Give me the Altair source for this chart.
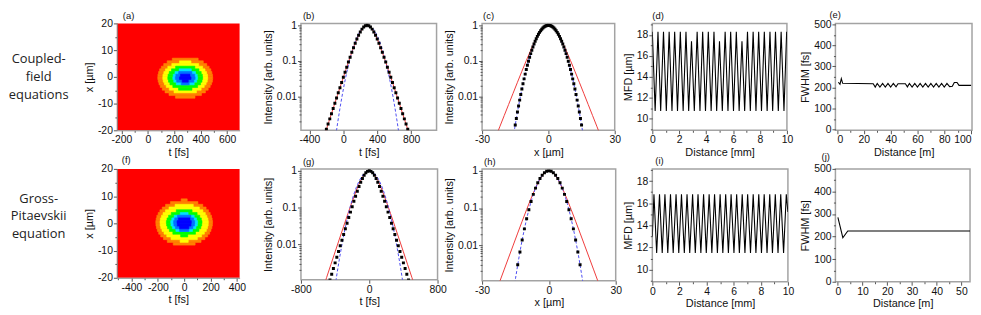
import altair as alt
import pandas as pd

# ---------------- (a) coupled-field map: contour levels, rows (x_lo [um], t_lo [fs], t_hi [fs])
a_lvl1 = [(6, 185, 381), (5, 146, 420), (4, 120, 446), (3, 102, 464), (2, 89, 477), (1, 81, 485),
          (0, 76, 490), (-1, 75, 491), (-2, 78, 489), (-3, 84, 482), (-4, 94, 472), (-5, 109, 457),
          (-6, 130, 436), (-7, 160, 406), (-8, 209, 357)]
a_lvl2 = [(5, 239, 327), (4, 181, 385), (3, 151, 415), (2, 133, 433), (1, 121, 445), (0, 114, 452),
          (-1, 113, 453), (-2, 116, 450), (-3, 125, 441), (-4, 139, 427), (-5, 162, 404), (-6, 198, 368)]
a_lvl3 = [(3, 210, 356), (2, 179, 387), (1, 162, 404), (0, 153, 413), (-1, 151, 415), (-2, 156, 410),
          (-3, 167, 399), (-4, 189, 377), (-5, 232, 334)]
a_lvl4 = [(2, 237, 329), (1, 205, 361), (0, 192, 374), (-1, 189, 377), (-2, 196, 370), (-3, 215, 351)]
a_lvl5 = [(1, 233, 333), (0, 212, 354), (-1, 208, 358), (-2, 218, 348), (-3, 253, 313)]
a_lvl6 = [(0, 247, 319), (-1, 239, 327), (-2, 260, 306)]

# ---------------- (f) Gross-Pitaevskii map: rows (x_lo [um], half width [fs]) centred on t = 0
f_lvl1 = [(8, 23), (7, 104), (6, 141), (5, 166), (4, 184), (3, 197), (2, 207), (1, 212), (0, 215),
          (-1, 214), (-2, 210), (-3, 203), (-4, 193), (-5, 178), (-6, 157), (-7, 128), (-8, 83)]
f_lvl2 = [(6, 69), (5, 115), (4, 142), (3, 160), (2, 172), (1, 180), (0, 183), (-1, 182), (-2, 177),
          (-3, 168), (-4, 153), (-5, 132), (-6, 100), (-7, 31)]
f_lvl3 = [(4, 60), (3, 98), (2, 118), (1, 130), (0, 135), (-1, 133), (-2, 126), (-3, 112), (-4, 86), (-5, 27)]
f_lvl4 = [(3, 30), (2, 76), (1, 94), (0, 102), (-1, 100), (-2, 89), (-3, 63)]
f_lvl5 = [(2, 51), (1, 72), (0, 80), (-1, 78), (-2, 66), (-3, 35)]
f_lvl6 = [(1, 44), (0, 54), (-1, 52), (-2, 35)]

LEVEL_COLORS = ["#ff8000", "#ffff00", "#00ff00", "#00e0ff", "#0070ff", "#0000ff"]

# ---------------- (b) temporal profile
b_red_t = [-220, -170, -120, -70, -20, 30, 80, 105, 130, 155, 180, 205, 230, 255, 280, 305, 330, 355, 380,
           405, 430, 455, 480, 530, 580, 630, 680, 730, 780]
b_red_I = [0.000835, 0.001948, 0.00454, 0.01056, 0.02449, 0.0561, 0.1266, 0.1864, 0.271, 0.3833, 0.524,
           0.684, 0.840, 0.956, 1.0, 0.956, 0.840, 0.684, 0.524, 0.3833, 0.271, 0.1864, 0.1266, 0.0561,
           0.02449, 0.01056, 0.00454, 0.001948, 0.000835]
b_blue_t = [-90, -65, -40, -15, 10, 35, 60, 85, 110, 135, 160, 185, 210, 235, 260, 285, 310, 335, 360, 385,
            410, 435, 460, 485, 510, 535, 560, 585, 610, 635, 660]
b_blue_I = [0.000766, 0.00193, 0.00457, 0.01013, 0.0211, 0.0412, 0.0756, 0.1299, 0.2096, 0.3173, 0.4506,
            0.6004, 0.7505, 0.8802, 0.9686, 1.0, 0.9686, 0.8802, 0.7505, 0.6004, 0.4506, 0.3173, 0.2096,
            0.1299, 0.0756, 0.0412, 0.0211, 0.01013, 0.00457, 0.00193, 0.000766]
b_blk_t = [-200, -180, -160, -140, -120, -100, -80, -60, -40, -20, 0, 20, 40, 60, 80, 100, 120, 140, 160,
           180, 200, 220, 240, 260, 280, 300, 320, 340, 360, 380, 400, 420, 440, 460, 480, 500, 520, 540,
           560, 580, 600, 620, 640, 660, 680, 700, 720, 740, 760]
b_blk_I = [0.001173, 0.001646, 0.00231, 0.00324, 0.00454, 0.00637, 0.00892, 0.01251, 0.0175, 0.0245,
           0.0342, 0.0477, 0.0661, 0.0918, 0.1266, 0.1735, 0.2321, 0.3119, 0.4102, 0.5243, 0.6512, 0.7802,
           0.8934, 0.9718, 1.0, 0.9718, 0.8934, 0.7802, 0.6512, 0.5243, 0.4102, 0.3119, 0.2321, 0.1735,
           0.1266, 0.0918, 0.0661, 0.0477, 0.0342, 0.0245, 0.0175, 0.01251, 0.00892, 0.00637, 0.00454,
           0.00324, 0.00231, 0.001646, 0.001173]

# ---------------- (c) spatial profile
c_red_x = [-24, -22, -20, -18, -16, -14, -12, -10, -8, -6, -5, -4, -3, -2, -1, 0, 1, 2, 3, 4, 5, 6, 8, 10,
           12, 14, 16, 18, 20, 22, 24]
c_red_I = [0.000668, 0.001382, 0.00285, 0.00587, 0.01208, 0.0248, 0.0505, 0.1012, 0.1969, 0.3674, 0.4831,
           0.6155, 0.7538, 0.8795, 0.968, 1.0, 0.968, 0.8795, 0.7538, 0.6155, 0.4831, 0.3674, 0.1969,
           0.1012, 0.0505, 0.0248, 0.01208, 0.00587, 0.00285, 0.001382, 0.000668]
c_blue_x = [-16, -15, -14, -13, -12, -11, -10, -9, -8, -7, -6, -5, -4, -3, -2, -1, 0, 1, 2, 3, 4, 5, 6, 7,
            8, 9, 10, 11, 12, 13, 14, 15, 16]
c_blue_I = [0.00064, 0.00156, 0.00359, 0.00779, 0.0160, 0.0309, 0.0565, 0.0976, 0.1591, 0.2447, 0.3555,
            0.4876, 0.6315, 0.7722, 0.8915, 0.9717, 1.0, 0.9717, 0.8915, 0.7722, 0.6315, 0.4876, 0.3555,
            0.2447, 0.1591, 0.0976, 0.0565, 0.0309, 0.0160, 0.00779, 0.00359, 0.00156, 0.00064]
c_blk_x = [-15, -14.5, -14, -13.5, -13, -12.5, -12, -11.5, -11, -10.5, -10, -9.5, -9, -8.5, -8, -7.5, -7,
           -6.5, -6, -5.5, -5, -4.5, -4, -3.5, -3, -2.5, -2, -1.5, -1, -0.5, 0, 0.5, 1, 1.5, 2, 2.5, 3,
           3.5, 4, 4.5, 5, 5.5, 6, 6.5, 7, 7.5, 8, 8.5, 9, 9.5, 10, 10.5, 11, 11.5, 12, 12.5, 13, 13.5,
           14, 14.5, 15]
c_blk_I = [0.00156, 0.00238, 0.00359, 0.00533, 0.00779, 0.01124, 0.0160, 0.0224, 0.0309, 0.0421, 0.0565,
           0.0748, 0.0976, 0.1255, 0.1591, 0.1987, 0.2447, 0.2971, 0.3555, 0.4194, 0.4876, 0.5590, 0.6315,
           0.7034, 0.7722, 0.8357, 0.8915, 0.9374, 0.9717, 0.9928, 1.0, 0.9928, 0.9717, 0.9374, 0.8915,
           0.8357, 0.7722, 0.7034, 0.6315, 0.5590, 0.4876, 0.4194, 0.3555, 0.2971, 0.2447, 0.1987, 0.1591,
           0.1255, 0.0976, 0.0748, 0.0565, 0.0421, 0.0309, 0.0224, 0.0160, 0.01124, 0.00779, 0.00533,
           0.00359, 0.00238, 0.00156]

# ---------------- (g) temporal profile
g_red_t = [-550, -500, -450, -400, -350, -300, -250, -200, -150, -125, -100, -75, -50, -25, 0, 25, 50, 75,
           100, 125, 150, 200, 250, 300, 350, 400, 450, 500, 550]
g_red_I = [0.000561, 0.001257, 0.002817, 0.0063, 0.01404, 0.03118, 0.0685, 0.1472, 0.3005, 0.4141, 0.5543,
           0.7075, 0.8535, 0.9605, 1.0, 0.9605, 0.8535, 0.7075, 0.5543, 0.4141, 0.3005, 0.1472, 0.0685,
           0.03118, 0.01404, 0.0063, 0.002817, 0.001257, 0.000561]
g_blue_t = [-400, -375, -350, -325, -300, -275, -250, -225, -200, -175, -150, -125, -100, -75, -50, -25, 0,
            25, 50, 75, 100, 125, 150, 175, 200, 225, 250, 275, 300, 325, 350, 375, 400]
g_blue_I = [0.000741, 0.001776, 0.00401, 0.00858, 0.01736, 0.0332, 0.0599, 0.1023, 0.1650, 0.2517, 0.3630,
            0.4947, 0.6374, 0.7762, 0.8935, 0.9722, 1.0, 0.9722, 0.8935, 0.7762, 0.6374, 0.4947, 0.3630,
            0.2517, 0.1650, 0.1023, 0.0599, 0.0332, 0.01736, 0.00858, 0.00401, 0.001776, 0.000741]
g_blk_t = [-460, -440, -420, -400, -380, -360, -340, -320, -300, -280, -260, -240, -220, -200, -180, -160,
           -140, -120, -100, -80, -60, -40, -20, 0, 20, 40, 60, 80, 100, 120, 140, 160, 180, 200, 220, 240,
           260, 280, 300, 320, 340, 360, 380, 400, 420, 440, 460]
g_blk_I = [0.001082, 0.001548, 0.00221, 0.00316, 0.00452, 0.00644, 0.00919, 0.01311, 0.01869, 0.02659,
           0.0378, 0.0537, 0.0757, 0.1063, 0.1487, 0.2050, 0.2804, 0.3774, 0.4921, 0.6235, 0.7598, 0.8825,
           0.9688, 1.0, 0.9688, 0.8825, 0.7598, 0.6235, 0.4921, 0.3774, 0.2804, 0.2050, 0.1487, 0.1063,
           0.0757, 0.0537, 0.0378, 0.02659, 0.01869, 0.01311, 0.00919, 0.00644, 0.00452, 0.00316, 0.00221,
           0.001548, 0.001082]

# ---------------- (h) spatial profile
h_red_x = [-24, -22, -20, -18, -16, -14, -12, -10, -8, -6, -5, -4, -3, -2, -1, 0, 1, 2, 3, 4, 5, 6, 8, 10,
           12, 14, 16, 18, 20, 22, 24]
h_red_I = [0.000507, 0.001075, 0.002263, 0.004776, 0.01004, 0.02113, 0.0441, 0.0907, 0.1827, 0.3469,
           0.4633, 0.5973, 0.7412, 0.8725, 0.9659, 1.0, 0.9659, 0.8725, 0.7412, 0.5973, 0.4633, 0.3469,
           0.1827, 0.0907, 0.0441, 0.02113, 0.01004, 0.004776, 0.002263, 0.001075, 0.000507]
h_blue_x = [-16, -15, -14, -13, -12, -11, -10, -9, -8, -7, -6, -5, -4, -3, -2, -1, 0, 1, 2, 3, 4, 5, 6, 7,
            8, 9, 10, 11, 12, 13, 14, 15, 16]
h_blue_I = [0.000495, 0.00125, 0.00295, 0.00658, 0.01384, 0.0274, 0.0512, 0.0900, 0.1492, 0.2330, 0.3429,
            0.4756, 0.6215, 0.7653, 0.8879, 0.9707, 1.0, 0.9707, 0.8879, 0.7653, 0.6215, 0.4756, 0.3429,
            0.2330, 0.1492, 0.0900, 0.0512, 0.0274, 0.01384, 0.00658, 0.00295, 0.00125, 0.000495]
h_blk_x = [-14, -13, -12, -11, -10, -9, -8, -7, -6, -5, -4, -3, -2, -1, 0, 1, 2, 3, 4, 5, 6, 7, 8, 9, 10,
           11, 12, 13, 14]
h_blk_I = [0.00295, 0.00658, 0.01384, 0.0274, 0.0512, 0.0900, 0.1492, 0.2330, 0.3429, 0.4756, 0.6215,
           0.7653, 0.8879, 0.9707, 1.0, 0.9707, 0.8879, 0.7653, 0.6215, 0.4756, 0.3429, 0.2330, 0.1492,
           0.0900, 0.0512, 0.0274, 0.01384, 0.00658, 0.00295]

# ---------------- (d) MFD vs distance (turning points)
d_z = [0.00, 0.21, 0.42, 0.62, 0.83, 1.04, 1.25, 1.46, 1.66, 1.87, 2.08, 2.29, 2.50, 2.70, 2.91, 3.12, 3.33,
       3.54, 3.74, 3.95, 4.16, 4.37, 4.58, 4.78, 4.99, 5.20, 5.41, 5.62, 5.82, 6.03, 6.24, 6.45, 6.66, 6.86,
       7.07, 7.28, 7.49, 7.70, 7.90, 8.11, 8.32, 8.53, 8.74, 8.94, 9.15, 9.36, 9.57, 9.78, 9.98, 10.0]
d_mfd = [18.3, 10.75, 18.3, 10.75, 18.3, 10.75, 18.3, 10.75, 18.3, 10.75, 18.3, 10.75, 18.3, 10.75, 17.4,
         10.75, 18.3, 10.75, 18.3, 10.75, 18.3, 10.75, 18.3, 10.75, 17.4, 10.75, 18.3, 10.75, 18.3, 10.75,
         18.3, 10.75, 17.4, 10.75, 18.3, 10.75, 18.3, 10.75, 18.3, 10.75, 18.3, 10.75, 18.3, 10.75, 18.3,
         10.75, 18.3, 10.75, 18.3, 17.8]

# ---------------- (i) MFD vs distance (turning points)
i_z = [0.0, 0.12, 0.32, 0.53, 0.73, 0.93, 1.14, 1.34, 1.54, 1.75, 1.95, 2.15, 2.36, 2.56, 2.76, 2.97, 3.17,
       3.37, 3.58, 3.78, 3.98, 4.19, 4.39, 4.59, 4.80, 5.00, 5.20, 5.41, 5.61, 5.81, 6.02, 6.22, 6.42, 6.63,
       6.83, 7.03, 7.24, 7.44, 7.64, 7.85, 8.05, 8.25, 8.46, 8.66, 8.86, 9.07, 9.27, 9.47, 9.68, 9.88, 10.0]
i_mfd = [13.0, 16.8, 11.5, 16.8, 11.5, 16.8, 11.5, 16.8, 11.5, 16.8, 11.5, 16.8, 11.5, 16.8, 11.5, 16.8,
         11.5, 16.8, 11.5, 16.8, 11.5, 16.8, 11.5, 16.8, 11.5, 16.8, 11.5, 16.8, 11.5, 16.8, 11.5, 16.8, 11.5,
         16.8, 11.5, 16.8, 11.5, 16.8, 11.5, 16.8, 11.5, 16.8, 11.5, 16.8, 11.5, 16.8, 11.5, 16.8, 11.5, 16.8,
         15.2]

# ---------------- (e) FWHM vs distance
e_z = [1, 2.2, 3.2, 4.2, 27, 28.5, 30, 32, 34, 36, 38, 40, 42, 44, 45.5, 51, 52.5, 54, 56, 58, 60, 62, 64,
       66, 68, 70, 72, 74, 76, 78, 80, 82, 84, 86, 87.5, 89.5, 91, 100]
e_fwhm = [225, 215, 242, 220, 218, 202, 219, 202, 219, 202, 219, 202, 219, 203, 218, 218, 203, 219, 202,
          219, 202, 219, 202, 219, 202, 219, 202, 219, 202, 219, 202, 219, 204, 206, 224, 224, 210, 210]

# ---------------- (j) FWHM vs distance
j_z = [0, 2, 4, 53.5]
j_fwhm = [285, 195, 225, 225]

FONT = "Liberation Sans"
RED = "#ef3b3b"
BLUE = "#4d4df2"
FRAME = "#a3a3a3"
LOG_MAJOR = [0.01, 0.1, 1.0]
LOG_MINOR = [0.002, 0.003, 0.004, 0.005, 0.006, 0.007, 0.008, 0.009,
             0.02, 0.03, 0.04, 0.05, 0.06, 0.07, 0.08, 0.09,
             0.2, 0.3, 0.4, 0.5, 0.6, 0.7, 0.8, 0.9]


def ax(title, major, minor=(), domain=False, flush=False, tpad=3, lpad=1):
    major = [float(v) for v in major]
    vals = sorted(major + [float(v) for v in minor])
    arr = "[" + ",".join(repr(v) for v in major) + "]"
    test = "indexof(" + arr + ", datum.value) >= 0"
    return alt.Axis(title=title, values=vals,
                    labelExpr=test + " ? '' + datum.value : ''",
                    tickSize={"condition": {"test": test, "value": 3.5}, "value": 2},
                    labelOverlap=False, labelFlush=flush, domain=domain, grid=False,
                    titlePadding=tpad, labelPadding=lpad)


def label(text, dx, base):
    return alt.Chart(pd.DataFrame({"s": [text]})).mark_text(
        font=FONT, fontSize=9.5, align="left", baseline="alphabetic", color="#111"
    ).encode(text="s:N", x=alt.value(dx), y=alt.value(base))


FRAMED = alt.ViewBackground(stroke=FRAME, strokeWidth=1.5)


def heat(rows, xdom, xmaj, xmin, w, h, lab, dx, base):
    df = pd.DataFrame(rows, columns=["lev", "y0", "t0", "t1"])
    df["y1"] = df["y0"] + 1
    cs = alt.Scale(domain=[1, 2, 3, 4, 5, 6], range=LEVEL_COLORS)
    m = alt.Chart(df).mark_rect(strokeWidth=0.6).encode(
        x=alt.X("t0:Q", scale=alt.Scale(domain=xdom, nice=False, zero=False),
                axis=ax("t [fs]", xmaj, xmin, domain=True, tpad=1)),
        x2="t1:Q",
        y=alt.Y("y0:Q", scale=alt.Scale(domain=[-20, 20], nice=False, zero=False),
                axis=ax("x [\u00b5m]", [-20, -10, 0, 10, 20], [-15, -5, 5, 15], domain=True)),
        y2="y1:Q",
        color=alt.Color("lev:O", scale=cs, legend=None),
        stroke=alt.Stroke("lev:O", scale=cs, legend=None),
    )
    return alt.layer(m, label(lab, dx, base)).properties(
        width=w, height=h, view=alt.ViewBackground(fill="#ff0000", stroke=None))


def intensity(red, blue, blk, xdom, xmaj, xmin, xtitle, w, h, lab, dx, base):
    r = pd.DataFrame({"x": red[0], "I": red[1]})
    b = pd.DataFrame({"x": blue[0], "I": blue[1]})
    k = pd.DataFrame({"x": blk[0], "I": blk[1]})
    xe = alt.X("x:Q", scale=alt.Scale(domain=xdom, nice=False, zero=False), axis=ax(xtitle, xmaj, xmin, tpad=1))
    ye = alt.Y("I:Q", scale=alt.Scale(type="log", domain=[0.0011, 1.13], nice=False),
               axis=ax("Intensity [arb. units]", LOG_MAJOR, LOG_MINOR))
    l1 = alt.Chart(r).mark_line(color=RED, strokeWidth=1, clip=True).encode(xe, ye)
    l2 = alt.Chart(b).mark_line(color=BLUE, strokeWidth=1, strokeDash=[3, 2], clip=True).encode(
        x="x:Q", y="I:Q")
    l3 = alt.Chart(k).mark_point(shape="square", filled=True, color="black", opacity=1, size=9,
                                 clip=True).encode(x="x:Q", y="I:Q")
    return alt.layer(l1, l2, l3, label(lab, dx, base)).properties(width=w, height=h, view=FRAMED)


def mfd(z, m, w, h, lab, dx, base):
    df = pd.DataFrame({"z": z, "m": m})
    c = alt.Chart(df).mark_line(color="black", strokeWidth=1.1, clip=True).encode(
        x=alt.X("z:Q", scale=alt.Scale(domain=[0, 10], nice=False, zero=False),
                axis=ax("Distance [mm]", [0, 2, 4, 6, 8, 10], [1, 3, 5, 7, 9], tpad=1)),
        y=alt.Y("m:Q", scale=alt.Scale(domain=[8.9, 19.1], nice=False, zero=False),
                axis=ax("MFD [\u00b5m]", [10, 12, 14, 16, 18], [9, 11, 13, 15, 17, 19])),
    )
    return alt.layer(c, label(lab, dx, base)).properties(width=w, height=h, view=FRAMED)


def fwhm(z, f, xdom, xmaj, xmin, ydom, w, h, lab, dx, base, flush=False):
    df = pd.DataFrame({"z": z, "f": f})
    c = alt.Chart(df).mark_line(color="black", strokeWidth=1.1, clip=True).encode(
        x=alt.X("z:Q", scale=alt.Scale(domain=xdom, nice=False, zero=False),
                axis=ax("Distance [m]", xmaj, xmin, flush=flush, tpad=1)),
        y=alt.Y("f:Q", scale=alt.Scale(domain=ydom, nice=False, zero=False),
                axis=ax("FWHM [fs]", [0, 100, 200, 300, 400, 500], [50, 150, 250, 350, 450])),
    )
    return alt.layer(c, label(lab, dx, base)).properties(width=w, height=h, view=FRAMED)


def spacer(w, h=1):
    return alt.Chart(pd.DataFrame({"v": [0]})).mark_point(size=0, opacity=0).encode(
        x=alt.value(0), y=alt.value(0)).properties(width=w, height=h)


def text_panel(txt, yfirst, w, h, anchor=False):
    t = alt.Chart(pd.DataFrame({"s": [txt]})).mark_text(
        font="Open Sans", fontSize=13, lineBreak="\n", align="center", baseline="middle",
        lineHeight=18, color="#222").encode(text="s:N", x=alt.value(30), y=alt.value(yfirst))
    layers = [t]
    if anchor:
        layers.append(alt.Chart(pd.DataFrame({"s": [0]})).mark_rect(color="white").encode(
            x=alt.value(0), x2=alt.value(1), y=alt.value(-13), y2=alt.value(-12)))
    return alt.layer(*layers).properties(width=w, height=h)


def rows_abs(levels):
    out = []
    for lev, rows in enumerate(levels, start=1):
        for xlo, tlo, thi in rows:
            out.append((lev, xlo, tlo, thi))
    return out


def rows_sym(levels):
    out = []
    for lev, rows in enumerate(levels, start=1):
        for xlo, hw in rows:
            out.append((lev, xlo, -hw, hw))
    return out


H1 = 108
pa = heat(rows_abs([a_lvl1, a_lvl2, a_lvl3, a_lvl4, a_lvl5, a_lvl6]), [-235, 695],
          [-200, 0, 200, 400, 600], [-100, 100, 300, 500], 124, H1, "(a)", 6, -4.5)
pb = intensity((b_red_t, b_red_I), (b_blue_t, b_blue_I), (b_blk_t, b_blk_I), [-500, 1100],
               [-400, 0, 400, 800], [-200, 200, 600, 1000], "t [fs]", 137, H1, "(b)", 2, -4.5)
pc = intensity((c_red_x, c_red_I), (c_blue_x, c_blue_I), (c_blk_x, c_blk_I), [-30, 30],
               [-30, -15, 0, 15, 30], [-22.5, -7.5, 7.5, 22.5], "x [\u00b5m]", 134, H1, "(c)", 1, -4.5)
pd_ = mfd(d_z, d_mfd, 136, H1, "(d)", 0, -4.5)
pe = fwhm(e_z, e_fwhm, [-1.2, 100.7], [0, 20, 40, 60, 80, 100], [10, 30, 50, 70, 90], [-3, 504],
          138, H1, "(e)", -6, -5, flush=2)

pf = heat(rows_sym([f_lvl1, f_lvl2, f_lvl3, f_lvl4, f_lvl5, f_lvl6]), [-510, 420],
          [-400, -200, 0, 200, 400], [-500, -300, -100, 100, 300], 124, 110, "(f)", 5, -6)
pg = intensity((g_red_t, g_red_I), (g_blue_t, g_blue_I), (g_blk_t, g_blk_I), [-800, 800],
               [-800, -400, 0, 400, 800], [-600, -200, 200, 600], "t [fs]", 138, 112, "(g)", 2, -3.5)
ph = intensity((h_red_x, h_red_I), (h_blue_x, h_blue_I), (h_blk_x, h_blk_I), [-30, 30],
               [-30, -15, 0, 15, 30], [-22.5, -7.5, 7.5, 22.5], "x [\u00b5m]", 135, 113, "(h)", 2, -3.5)
pi = mfd(i_z, i_mfd, 137, 114, "(i)", 3, -4.5)
pj = fwhm(j_z, j_fwhm, [-1, 53.5], [0, 10, 20, 30, 40, 50], [5, 15, 25, 35, 45], [0, 500],
          136, 114, "(j)", -14, -8.5)

items = [text_panel("Coupled-\nfield\nequations", 36, 109, H1, anchor=True),
         pa, spacer(62), pb, spacer(45), pc, spacer(37), pd_, spacer(48), pe,
         text_panel("Gross-\nPitaevskii\nequation", 30, 109, 110),
         pf, spacer(62), pg, spacer(44), ph, spacer(35), pi, spacer(46), pj]

chart = alt.concat(*items, columns=10, spacing=alt.RowColnumber(row=39, column=0),
                   bounds="flush", align="none", padding=0).configure_view(
    stroke=None
).configure_axis(
    labelFont=FONT, titleFont=FONT, labelFontSize=10.5, titleFontSize=11, titleFontWeight="normal",
    labelColor="#111", titleColor="#111", tickColor="#555", domainColor="#888", grid=False
)

chart.save("out.html", embed_options={"renderer": "svg", "actions": False})
